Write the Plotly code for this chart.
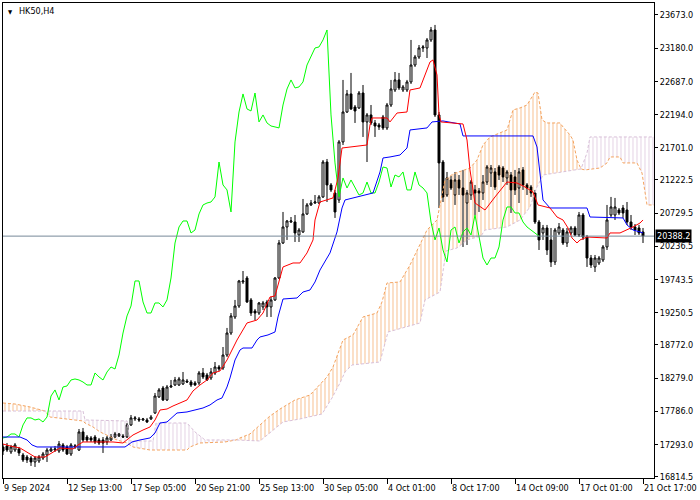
import plotly.graph_objects as go

# ---------------- data ----------------
bar_open = [17256,17271,17182,17211,17226,17137,17107,17092,17033,17048,17092,17137,17196,17211,17196,17286,17256,17152,17256,17211,
            17479,17404,17390,17404,17360,17360,17330,17360,17404,17419,17419,17404,17583,17672,17672,17657,17657,17672,17761,17999,
            18132,17954,18147,18177,18177,18192,18236,18221,18207,18207,18355,18325,18281,18355,18444,18429,18622,18949,19187,19350,
            19707,19766,19440,19276,19246,19336,19410,19336,19440,19766,20286,20524,20598,20598,20405,20450,20717,20851,20880,20880,
            20970,21489,21148,21029,20925,21787,22232,22500,22306,22292,22514,22084,22188,22069,22039,22158,21995,22336,22559,22708,
            22559,22559,22678,22930,23049,23183,23183,23302,23450,22188,21489,20999,21222,20999,21222,21103,20880,20999,21074,21059,
            21029,21192,21326,21341,21415,21400,21252,21296,21267,21103,21371,21148,21118,21029,20598,20435,20509,20331,20004,20435,
            20479,20286,20435,20509,20405,20702,20375,20063,19930,19989,20034,20227,20702,20702,20776,20806,20776,20598,20524,20509,
            20450]
bar_high = [17300,17315,17286,17315,17256,17167,17137,17122,17122,17137,17182,17241,17256,17271,17345,17315,17286,17315,17300,17523,
            17538,17434,17419,17434,17390,17404,17419,17449,17479,17464,17449,17612,17731,17716,17701,17687,17687,17731,18058,18132,
            18162,18177,18251,18296,18296,18370,18266,18251,18236,18385,18429,18355,18429,18518,18474,18741,19024,19246,19440,19737,
            19870,19796,19469,19306,19410,19425,19440,19484,19781,20331,20747,20628,20672,20702,20509,20940,20880,20925,20999,20999,
            21519,21534,21177,21074,21816,22708,22559,22812,22336,22544,22633,22217,22336,22113,22069,22188,22366,22708,22826,22812,
            22633,22708,23302,23079,23227,23227,23331,23495,23525,22232,21519,21341,21281,21341,21296,21371,21074,21222,21148,21103,
            21296,21445,21445,21400,21445,21430,21371,21341,21371,21400,21415,21177,21148,21074,20628,20554,20554,20509,20509,20583,
            20509,20509,20539,20539,20747,20732,20405,20108,20108,20093,20256,20851,20970,20955,20806,20851,20895,20702,20568,20554,
            20509]
bar_low = [17137,17182,17152,17182,17122,17033,17018,16974,16959,17018,17063,17033,17182,17182,17167,17182,17137,17122,17226,17196,
           17330,17330,17330,17300,17286,17167,17286,17345,17390,17404,17390,17390,17568,17642,17627,17642,17612,17657,17746,17984,
           17939,17939,18132,18162,18162,18177,18207,18147,18162,18177,18266,18236,18251,18325,18385,18400,18593,18920,19157,19321,
           19677,19395,19202,19142,19217,19291,19187,19187,19425,19751,20271,20331,20583,20301,20301,20435,20702,20836,20866,20866,
           20955,20895,21044,20658,20880,21742,22217,22262,22069,22277,21861,21489,22039,21861,21965,21965,21965,22306,22529,22559,
           22529,22529,22648,22901,23020,23124,23034,23272,22158,20806,20895,20970,21074,20851,20999,20227,20256,20925,20702,20747,
           20925,21148,21118,21074,21222,21192,21148,20732,20999,20880,21074,20999,20970,20568,20182,20331,20108,19930,19959,20405,
           20256,20227,20405,20390,20375,20331,19930,19915,19855,19959,20004,20182,20672,20628,20702,20658,20554,20479,20405,20405,
           20286]
bar_close = [17196,17211,17256,17286,17167,17063,17063,17033,17092,17107,17152,17211,17226,17226,17300,17211,17152,17286,17271,17479,
             17360,17360,17360,17330,17315,17315,17390,17404,17449,17449,17404,17583,17687,17687,17657,17672,17627,17701,18013,18103,
             17954,18147,18162,18251,18266,18251,18221,18177,18177,18355,18296,18251,18370,18444,18414,18622,18949,19202,19350,19722,
             19722,19410,19246,19246,19395,19395,19336,19440,19766,20286,20524,20613,20613,20435,20479,20717,20851,20880,20895,20970,
             21489,21148,21074,20747,21787,22232,22500,22277,22247,22514,22084,22188,22069,22024,22010,21995,22336,22574,22708,22589,
             22604,22678,22930,23049,23183,23198,23302,23450,22188,21475,20970,21252,21103,21222,21103,20999,21029,21192,21029,21029,
             21192,21415,21400,21118,21296,21267,21341,21074,21074,21341,21148,21103,21029,20598,20331,20509,20182,20004,20479,20524,
             20286,20450,20509,20405,20702,20375,20063,19959,20063,20063,20227,20628,20821,20821,20732,20732,20598,20524,20479,20435,
             20388.2]

# Tenkan-sen (red), read as (bar, price) knots
tenkan_bar = [0,1.75,4.25,6.75,8,10.5,12.5,14.25,17.5,18.75,20,27.5,30,31,32.5,35,36.75,38,39.25,41,42.5,46,47.5,49.25,51,52.5,
              54.25,56,58.5,61,63.5,65,66,66.75,68,69.25,70,72.5,74.25,76,77.5,78,79.25,82.5,83.75,84.75,91,91.75,92.25,96,96.75,
              98.5,101,101.75,104.25,106.75,107.5,108.5,109,109.5,115,116,116.75,118,120.5,123,125,126,128.5,130.5,132.5,133.75,
              136.75,138.5,140,141.25,142.25,143.5,144.25,146,151,151.75,154.25,156,157.5,159.25,160]
tenkan_val = [17300,17271,17241,17152,17107,17107,17182,17241,17226,17286,17330,17330,17315,17360,17434,17508,17553,17657,17805,
              17820,17865,17954,18088,18177,18251,18355,18385,18548,18845,19098,19142,19246,19395,19484,19499,19781,19930,19989,19989,
              20138,20331,20628,20895,20955,21252,21697,21742,22039,22143,22143,22084,22217,22232,22559,22589,22975,23005,22782,22188,
              22084,22054,21816,21371,20880,20776,20970,21118,21192,21177,21118,21044,20851,20806,20672,20628,20509,20360,20286,20331,
              20375,20360,20435,20435,20479,20524,20583,20628]

# Kijun-sen (blue)
kijun_bar = [0,4.25,6,7.25,8.5,30.5,31.25,32.25,34.25,36.75,38,39.25,41,43.5,46,48.5,50,51.75,53.5,54.75,56,56.75,58,59.25,60,62.25,
             63.5,64.25,66.25,68,68.75,70,73.5,75,76.75,78,79.25,81,81.75,83.5,84.75,85.5,90,92.5,94.25,95,96.75,99.25,101,101.75,
             106,107.25,110,114.25,115,132.5,133.5,134.25,135,136.75,146,146.75,155,156,157.5,159.25,160]
kijun_val = [17404,17404,17360,17286,17256,17256,17286,17330,17360,17390,17464,17612,17627,17761,17776,17820,17835,17880,17954,17984,
             18147,18281,18548,18697,18726,18726,18845,18890,18920,18964,19187,19454,19469,19558,19588,19707,19885,20063,20138,20450,
             20806,20925,20999,21029,21341,21549,21564,21593,21697,21965,21995,22084,22099,22054,21876,21876,21712,21267,20925,20806,
             20806,20672,20658,20554,20479,20450,20435]

# Senkou span A (sandy brown)
span_a_bar = [0,3,6.75,10.5,11.75,20,20.5,22.5,24.25,26.75,28.5,31,32.5,36.75,46,46.75,49.25,55.5,58.25,59.25,61.75,64.25,66.75,69.25,
              73,76.75,78.5,81,82.5,85,87.5,90,93.5,94.75,96,99.25,101.75,104.25,106,108.5,110.5,112.5,116.75,118.5,120,121.75,124.25,
              126,127.5,129.25,131,132.25,133,133.75,134.75,136,139.25,140,141.75,142.5,143.5,144.5,145.5,149.25,151,151.75,154.25,155,
              158.5,159.75,160.5,161,162.75]
span_a_val = [17909,17894,17850,17790,17701,17642,17612,17553,17479,17404,17360,17315,17256,17211,17211,17256,17315,17330,17360,17390,
              17449,17583,17716,17820,17954,18028,18132,18296,18444,18845,18920,19187,19246,19410,19692,19707,19959,20256,20479,20628,
              21222,21311,21400,21519,21742,21861,21920,21965,22262,22292,22336,22455,22529,22514,22113,22069,22069,22010,21891,21816,
              21519,21386,21371,21400,21475,21564,21564,21475,21475,21326,21029,20851,20851]

# Senkou span B (thistle)
span_b_bar = [0,10.5,20,20.5,31,31.75,37.5,38.25,46,48,50.5,55.5,58.25,64.25,70,74.25,79.75,82.25,84.25,85.5,87.25,94.25,95.25,96.25,
              104.25,105.5,109.25,110.75,113.5,116,119.5,120.5,126,129.25,131.75,133.5,135,138.5,144.5,146,146.75,162.75]
span_b_val = [17790,17790,17790,17657,17642,17345,17345,17612,17612,17479,17360,17360,17360,17345,17627,17672,17746,17984,18207,18370,
              18474,18518,18726,18964,19098,19440,19558,20167,20212,20331,20390,20479,20524,20628,20821,21118,21296,21326,21386,21623,
              21861,21861]

# cloud segments: (from bar, to bar, colour of the kumo)
kumo_segments = [(0, 10.5, "#F4A460"), (10.5, 58.25, "#D8BFD8"), (58.25, 144.5, "#F4A460"), (144.5, 162.75, "#D8BFD8")]

x_tick_bars = [0, 16, 32, 48, 64, 80, 96, 112, 128, 144, 160]
x_tick_labels = ["9 Sep 2024", "12 Sep 13:00", "17 Sep 05:00", "20 Sep 21:00", "25 Sep 13:00", "30 Sep 05:00",
                 "4 Oct 01:00", "8 Oct 17:00", "14 Oct 09:00", "17 Oct 01:00", "21 Oct 17:00"]
y_tick_vals = [23673.0, 23180.0, 22687.0, 22194.0, 21701.0, 21222.5, 20729.5, 20236.5, 19743.5, 19250.5,
               18772.0, 18279.0, 17786.0, 17293.0, 16814.5]
last_price = 20388.2
chikou_shift = 26

# ---------------- figure ----------------
FONT = "DejaVu Sans Condensed, DejaVu Sans, sans-serif"
bars = list(range(len(bar_close)))
fig = go.Figure()


def clip(xs, ys, lo, hi):
    pts = [(x, y) for x, y in zip(xs, ys) if lo - 1e-9 <= x <= hi + 1e-9]
    return [p[0] for p in pts], [p[1] for p in pts]


for lo, hi, col in kumo_segments:
    bx, by = clip(span_b_bar, span_b_val, lo, hi)
    ax, ay = clip(span_a_bar, span_a_val, lo, hi)
    fig.add_trace(go.Scatter(x=bx, y=by, mode="lines", line=dict(width=0), hoverinfo="skip"))
    fig.add_trace(go.Scatter(x=ax, y=ay, mode="lines", line=dict(width=0), hoverinfo="skip",
                             fill="tonexty", fillcolor="rgba(0,0,0,0)",
                             fillpattern=dict(shape="|", size=4, solidity=0.35, fgcolor=col,
                                              bgcolor="rgba(0,0,0,0)")))

fig.add_trace(go.Scatter(x=span_a_bar, y=span_a_val, mode="lines",
                         line=dict(color="#F4A460", width=1, dash="3px,2px")))
fig.add_trace(go.Scatter(x=span_b_bar, y=span_b_val, mode="lines",
                         line=dict(color="#D8BFD8", width=1, dash="3px,2px")))

fig.add_trace(go.Candlestick(
    x=bars, open=bar_open, high=bar_high, low=bar_low, close=bar_close,
    increasing=dict(line=dict(color="black", width=1), fillcolor="white"),
    decreasing=dict(line=dict(color="black", width=1), fillcolor="black"),
    whiskerwidth=0, hoverinfo="skip"))

fig.add_trace(go.Scatter(x=[i - chikou_shift for i in bars[chikou_shift:]], y=bar_close[chikou_shift:],
                         mode="lines", line=dict(color="#00FF00", width=1)))
fig.add_trace(go.Scatter(x=kijun_bar, y=kijun_val, mode="lines", line=dict(color="#0000FF", width=1)))
fig.add_trace(go.Scatter(x=tenkan_bar, y=tenkan_val, mode="lines", line=dict(color="#FF0000", width=1)))

fig.add_shape(type="line", xref="paper", x0=0, x1=1, yref="y", y0=last_price, y1=last_price,
              line=dict(color="#778899", width=1), layer="above")

annotations = []
for b, t in zip(x_tick_bars, x_tick_labels):
    annotations.append(dict(x=b, y=0, xref="x", yref="paper", text=t, showarrow=False,
                            xanchor="left", yanchor="top", yshift=-3, xshift=-1,
                            font=dict(family=FONT, size=9, color="black")))
annotations.append(dict(x=1, y=last_price, xref="paper", yref="y", text=f"{last_price:.1f}", showarrow=False,
                        xanchor="left", yanchor="middle", xshift=1, bgcolor="black", borderpad=1,
                        font=dict(family=FONT, size=9, color="white")))
annotations.append(dict(x=0, y=1, xref="paper", yref="paper", text="HK50,H4", showarrow=False,
                        xanchor="left", yanchor="top", xshift=14, yshift=-1,
                        font=dict(family=FONT, size=9, color="black")))
annotations.append(dict(x=0, y=1, xref="paper", yref="paper", text="▼", showarrow=False,
                        xanchor="left", yanchor="top", xshift=3, yshift=-3,
                        font=dict(family=FONT, size=6, color="black")))

fig.update_layout(
    width=700, height=500,
    margin=dict(l=3, r=46, t=3, b=22),
    plot_bgcolor="white", paper_bgcolor="white",
    showlegend=False,
    font=dict(family=FONT, size=9, color="black"),
    annotations=annotations,
    xaxis=dict(range=[0, 162.75], showgrid=False, zeroline=False, showline=True, mirror=True,
               linecolor="black", linewidth=1, ticks="outside", ticklen=5, tickcolor="black",
               tickvals=x_tick_bars, showticklabels=False, rangeslider=dict(visible=False)),
    yaxis=dict(range=[16795, 23851], side="right", showgrid=False, zeroline=False, showline=True,
               mirror=True, linecolor="black", linewidth=1, ticks="outside", ticklen=3,
               tickcolor="black", tickvals=y_tick_vals, ticktext=[f"{v:.1f}" for v in y_tick_vals],
               tickfont=dict(family=FONT, size=9, color="black")),
)

fig.write_html("out.html", config={"displayModeBar": False},
               post_script="document.body.style.margin='0px';document.body.style.padding='0px';")
